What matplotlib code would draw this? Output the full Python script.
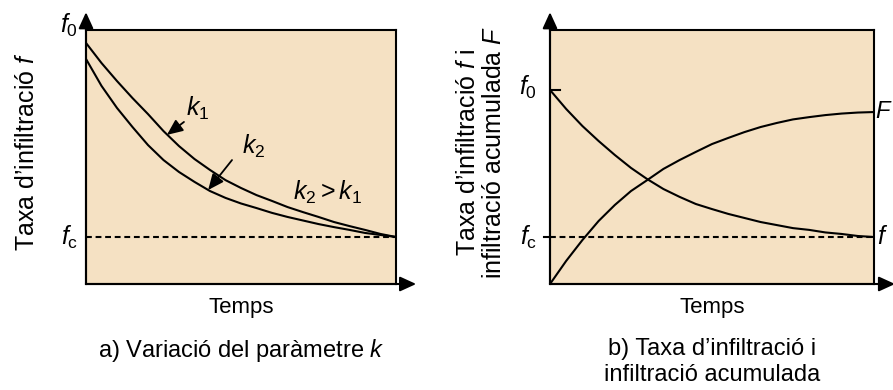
import matplotlib.pyplot as plt

plt.rcParams['font.family'] = ['Liberation Sans', 'DejaVu Sans']
plt.rcParams['mathtext.fontset'] = 'custom'
plt.rcParams['mathtext.rm'] = 'Liberation Sans'
plt.rcParams['mathtext.it'] = 'Liberation Sans:italic'

# data (time in arbitrary units, rate normalised to box height)
t_left = [0, 0.5, 1, 1.5, 2, 2.5, 3, 3.5, 4, 4.5, 5, 5.5, 6, 6.5, 7, 7.5, 8, 8.5, 9, 9.5, 10]
f_k1 = [0.949, 0.870, 0.799, 0.732, 0.669, 0.602, 0.543, 0.492, 0.449, 0.409, 0.378,
        0.350, 0.327, 0.303, 0.283, 0.264, 0.244, 0.228, 0.213, 0.197, 0.185]
f_k2 = [0.886, 0.780, 0.693, 0.618, 0.547, 0.488, 0.441, 0.402, 0.366, 0.339, 0.317,
        0.299, 0.280, 0.264, 0.250, 0.236, 0.224, 0.213, 0.201, 0.193, 0.185]
fc_level = 0.185

t_right = [0, 0.5, 1, 1.5, 2, 2.5, 3, 3.5, 4, 4.5, 5, 5.5, 6, 6.5, 7, 7.5, 8, 8.5, 9, 9.5, 10]
f_rate = [0.764, 0.689, 0.622, 0.563, 0.508, 0.457, 0.413, 0.374, 0.343, 0.315, 0.295,
          0.276, 0.260, 0.244, 0.232, 0.220, 0.213, 0.203, 0.197, 0.189, 0.185]
F_cum = [0.0, 0.091, 0.173, 0.248, 0.311, 0.366, 0.409, 0.453, 0.488, 0.520, 0.551,
         0.575, 0.598, 0.618, 0.634, 0.648, 0.657, 0.665, 0.671, 0.675, 0.677]

BG = '#F5E1C3'
W, H = 893, 390


def setup_box(ax):
    ax.set_facecolor(BG)
    ax.set_xlim(0, 10)
    ax.set_ylim(0, 1)
    ax.set_xticks([])
    ax.set_yticks([])
    for sp in ax.spines.values():
        sp.set_linewidth(1.5)
        sp.set_color('black')
    arrow = dict(arrowstyle='-|>,head_length=0.7,head_width=0.32', color='black',
                 lw=1.5, shrinkA=0, shrinkB=0, mutation_scale=14)
    ax.annotate('', xy=(0, 1.07), xytext=(0, 0), xycoords='axes fraction',
                arrowprops=arrow, annotation_clip=False)
    ax.annotate('', xy=(1.065, 0), xytext=(0, 0), xycoords='axes fraction',
                arrowprops=arrow, annotation_clip=False)
    ax.axhline(fc_level, color='black', lw=1.5, ls=(0, (2.8, 1.8)))


fig = plt.figure(figsize=(W / 100, H / 100), dpi=100)
axL = fig.add_axes([86 / W, 106 / H, 310 / W, 254 / H])
axR = fig.add_axes([550 / W, 106 / H, 324 / W, 254 / H])

# a) variation of k
setup_box(axL)
axL.plot(t_left, f_k1, color='black', lw=1.5)
axL.plot(t_left, f_k2, color='black', lw=1.5)
axL.text(-0.025, 1.02, r'$f_0$', transform=axL.transAxes, ha='right', va='center', fontsize=18)
axL.text(-0.025, fc_level, r'$f_\mathrm{c}$', transform=axL.get_yaxis_transform(),
         ha='right', va='center', fontsize=18)
karrow = dict(arrowstyle='-|>,head_length=0.8,head_width=0.35', color='black', lw=1.3,
              shrinkA=0, shrinkB=0, mutation_scale=12)
axL.annotate('', xy=(2.61, 0.587), xytext=(3.16, 0.638), arrowprops=karrow)
axL.text(3.6, 0.69, r'$k_1$', ha='center', va='center', fontsize=18)
axL.annotate('', xy=(3.94, 0.370), xytext=(4.71, 0.488), arrowprops=karrow)
axL.text(5.4, 0.54, r'$k_2$', ha='center', va='center', fontsize=18)
axL.text(7.8, 0.36, r'$k_2 > k_1$', ha='center', va='center', fontsize=18)

# b) rate and cumulative infiltration
setup_box(axR)
axR.plot(t_right, f_rate, color='black', lw=1.5)
axR.plot(t_right, F_cum, color='black', lw=1.5)
axR.plot([0, 0.3], [f_rate[0], f_rate[0]], color='black', lw=1.5)
axR.plot([-0.18, 0], [fc_level, fc_level], color='black', lw=1.5, clip_on=False)
axR.text(-0.04, f_rate[0] + 0.01, r'$f_0$', transform=axR.get_yaxis_transform(),
         ha='right', va='center', fontsize=18)
axR.text(-0.04, fc_level, r'$f_\mathrm{c}$', transform=axR.get_yaxis_transform(),
         ha='right', va='center', fontsize=18)
axR.text(10.03, F_cum[-1], r'$F$', ha='left', va='center', fontsize=17, clip_on=False)
axR.text(10.1, f_rate[-1], r'$f$', ha='left', va='center', fontsize=18, clip_on=False)

# axis labels and captions
fig.text(27 / W, 1 - 152 / H, 'Taxa d’infiltració $f$', rotation=90,
         ha='center', va='center', fontsize=18)
fig.text(481 / W, 1 - 152 / H, 'Taxa d’infiltració $f$ i\ninfiltració acumulada $F$',
         rotation=90, ha='center', va='center', fontsize=18, linespacing=1.15)
fig.text(241 / W, 1 - 307 / H, 'Temps', ha='center', va='center', fontsize=16)
fig.text(712 / W, 1 - 307 / H, 'Temps', ha='center', va='center', fontsize=16)
fig.text(241 / W, 1 - 350 / H, 'a) Variació del paràmetre $k$', ha='center', va='center', fontsize=17)
fig.text(712 / W, 1 - 362 / H, 'b) Taxa d’infiltració i\ninfiltració acumulada',
         ha='center', va='center', fontsize=17, linespacing=1.2)

fig.savefig('out.png', dpi=100, facecolor='white')
